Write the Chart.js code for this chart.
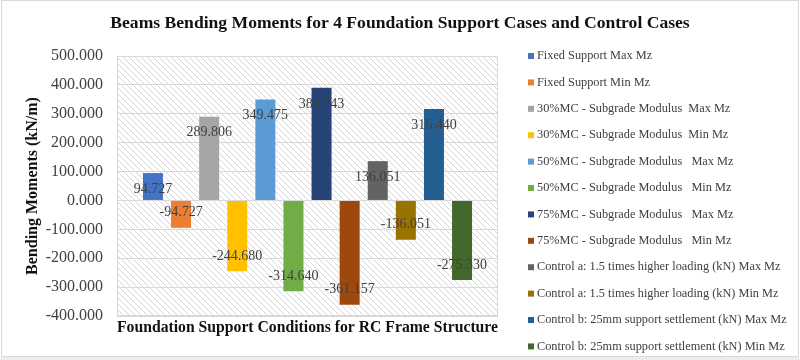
<!DOCTYPE html>
<html>
<head>
<meta charset="utf-8">
<title>Beams Bending Moments</title>
<script src="https://cdn.jsdelivr.net/npm/chart.js@4/dist/chart.umd.min.js"></script>
<style>
  html, body { margin: 0; padding: 0; background: #fff; }
  canvas { display: block; }
</style>
</head>
<body>
<canvas id="chart" width="800" height="360"></canvas>
<script>
// data
const categories = [''];
const caseLabels = [
    'Fixed Support Max Mz',
    'Fixed Support Min Mz',
    '30%MC - Subgrade Modulus  Max Mz',
    '30%MC - Subgrade Modulus  Min Mz',
    '50%MC - Subgrade Modulus   Max Mz',
    '50%MC - Subgrade Modulus   Min Mz',
    '75%MC - Subgrade Modulus   Max Mz',
    '75%MC - Subgrade Modulus   Min Mz',
    'Control a: 1.5 times higher loading (kN) Max Mz',
    'Control a: 1.5 times higher loading (kN) Min Mz',
    'Control b: 25mm support settlement (kN) Max Mz',
    'Control b: 25mm support settlement (kN) Min Mz'
];
const caseValues = [94.727, -94.727, 289.806, -244.680, 349.475, -314.640, 389.743, -361.157, 136.051, -136.051, 316.440, -275.330];
const caseColors = ['#4472C4', '#ED7D31', '#A5A5A5', '#FFC000', '#5B9BD5', '#70AD47', '#264478', '#9E480E', '#636363', '#997300', '#255E91', '#43682B'];
const yTickValues = [-400, -300, -200, -100, 0, 100, 200, 300, 400, 500];

const serif = 'Liberation Serif, Times New Roman, serif';

// diagonal hatch for the plot area
const hatchTile = document.createElement('canvas');
hatchTile.width = 6; hatchTile.height = 6;
const hg = hatchTile.getContext('2d');
hg.strokeStyle = '#d6d6d6';
hg.lineWidth = 1;
hg.beginPath();
hg.moveTo(0, 0); hg.lineTo(6, 6);
hg.moveTo(-3, 3); hg.lineTo(3, 9);
hg.moveTo(3, -3); hg.lineTo(9, 3);
hg.stroke();

const frameAndHatch = {
    id: 'frameAndHatch',
    beforeDraw(chart) {
        const {ctx, chartArea: a, width, height} = chart;
        ctx.save();
        ctx.fillStyle = '#fff';
        ctx.fillRect(0, 0, width, height);
        ctx.fillStyle = '#ededed';
        ctx.fillRect(0, 357, width, height - 357);
        ctx.strokeStyle = '#d9d9d9';
        ctx.strokeRect(1.5, 0.5, width - 3, 356);
        ctx.fillStyle = ctx.createPattern(hatchTile, 'repeat');
        ctx.fillRect(a.left, a.top, a.right - a.left, a.bottom - a.top);
        ctx.restore();
    },
    beforeDatasetsDraw(chart) {
        const {ctx, chartArea: a} = chart;
        ctx.save();
        ctx.strokeStyle = '#d9d9d9';
        ctx.strokeRect(a.left + 0.5, a.top + 0.5, a.right - a.left - 1, a.bottom - a.top - 1);
        ctx.restore();
    }
};

// value labels, "inside end" like the original
const valueLabels = {
    id: 'valueLabels',
    afterDatasetsDraw(chart) {
        const ctx = chart.ctx;
        ctx.save();
        ctx.font = '14px ' + serif;
        ctx.fillStyle = '#404040';
        ctx.textAlign = 'center';
        ctx.textBaseline = 'middle';
        chart.data.datasets.forEach((ds, i) => {
            const bar = chart.getDatasetMeta(i).data[0];
            const v = ds.data[0];
            const y = v >= 0 ? bar.y + 16 : bar.y - 15;
            ctx.fillText(v.toFixed(3), bar.x, y);
        });
        ctx.restore();
    }
};

// legend on the right, drawn from the datasets
const sideLegend = {
    id: 'sideLegend',
    afterDraw(chart) {
        const {ctx, chartArea: a} = chart;
        const x0 = a.right + 30;
        ctx.save();
        ctx.font = '12.3px ' + serif;
        ctx.textAlign = 'left';
        ctx.textBaseline = 'middle';
        chart.data.datasets.forEach((ds, i) => {
            const y = a.top + i * 26.4;
            ctx.fillStyle = ds.backgroundColor;
            ctx.fillRect(x0, y - 3, 6, 6);
            ctx.fillStyle = '#404040';
            ctx.fillText(ds.label, x0 + 9, y);
        });
        ctx.restore();
    }
};

new Chart(document.getElementById('chart'), {
    type: 'bar',
    data: {
        labels: categories,
        datasets: caseLabels.map((label, i) => ({
            label: label,
            data: [caseValues[i]],
            backgroundColor: caseColors[i],
            categoryPercentage: 0.885,
            barPercentage: 0.712
        }))
    },
    options: {
        responsive: false,
        animation: false,
        layout: { padding: 0 },
        plugins: {
            legend: { display: false },
            tooltip: { enabled: false },
            title: {
                display: true,
                text: 'Beams Bending Moments for 4 Foundation Support Cases and Control Cases',
                color: '#111',
                font: { family: serif, size: 17.6, weight: 'bold' },
                padding: { top: 12.5, bottom: 22.4 }
            }
        },
        scales: {
            x: {
                grid: { display: false, drawTicks: false },
                border: { display: false },
                ticks: { display: false },
                title: {
                    display: true,
                    text: 'Foundation Support Conditions for RC Frame Structure',
                    color: '#111',
                    font: { family: serif, size: 16, weight: 'bold' },
                    padding: { top: 0, bottom: 22.4 }
                },
                afterFit: s => { s.height = 44; }
            },
            y: {
                min: yTickValues[0],
                max: yTickValues[yTickValues.length - 1],
                afterBuildTicks: s => { s.ticks = yTickValues.map(v => ({ value: v })); },
                ticks: {
                    padding: 14,
                    color: '#404040',
                    font: { family: serif, size: 16 },
                    callback: v => v.toFixed(3)
                },
                grid: { color: '#d9d9d9', drawTicks: false },
                border: { display: false },
                title: {
                    display: true,
                    text: 'Bending Moments (kN/m)',
                    color: '#111',
                    font: { family: serif, size: 16, weight: 'bold' },
                    padding: { top: 23, bottom: 0 }
                },
                afterFit: s => { s.width = 117; }
            },
            // empty axis that keeps room for the legend on the right
            legendRoom: {
                type: 'linear',
                position: 'right',
                display: true,
                grid: { display: false, drawTicks: false },
                border: { display: false },
                ticks: { display: false },
                afterFit: s => { s.width = 302; }
            }
        }
    },
    plugins: [frameAndHatch, valueLabels, sideLegend]
});
</script>
</body>
</html>
